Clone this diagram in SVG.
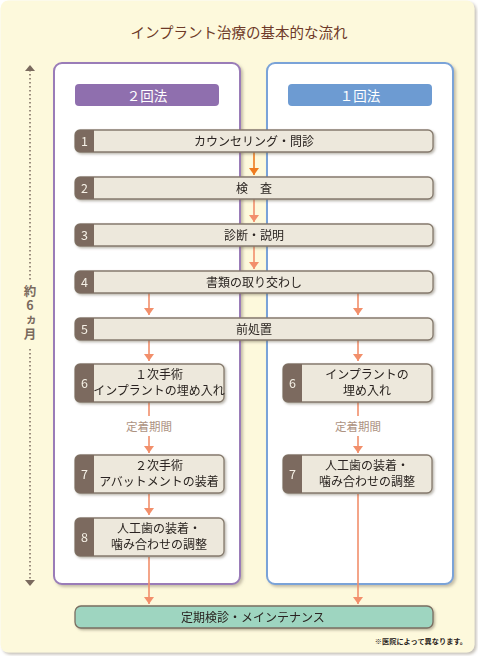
<svg xmlns="http://www.w3.org/2000/svg" width="478" height="656" viewBox="0 0 478 656">
<defs>
<filter id="sh" x="-10%" y="-20%" width="120%" height="160%"><feDropShadow dx="1.5" dy="1.5" stdDeviation="1" flood-color="#6b6050" flood-opacity="0.45"/></filter>
<filter id="shb" x="-5%" y="-5%" width="110%" height="110%"><feDropShadow dx="2" dy="2" stdDeviation="1.5" flood-color="#8a8070" flood-opacity="0.5"/></filter>
<marker id="ah" viewBox="0 0 7 10" refX="7" refY="5" markerWidth="7" markerHeight="10" markerUnits="userSpaceOnUse" orient="auto"><path d="M0,0 L7,5 L0,10 Z" fill="#f28f6b"/></marker>
<marker id="ahd" viewBox="0 0 7 10" refX="7" refY="5" markerWidth="7" markerHeight="10" markerUnits="userSpaceOnUse" orient="auto"><path d="M0,0 L7,5 L0,10 Z" fill="#ee7b1e"/></marker>
</defs>
<style>
text{font-family:"Noto Sans CJK JP","Noto Sans",sans-serif}
.box{fill:#ede8dc;stroke:#857a6d;stroke-width:1.3}
.num{fill:#7b6b5f}
.nt{fill:#f6f0e6;font-size:12.5px;text-anchor:middle}
.bt{fill:#2a2420;font-size:12px;text-anchor:middle}
.ar{stroke:#f28f6b;stroke-width:1.6;fill:none}
.lbl{fill:#ad9282;font-size:11.5px;text-anchor:middle}
.hd{fill:#fff;font-size:13.5px;text-anchor:middle}
</style>
<rect x="0.5" y="0.5" width="474" height="652" rx="8" fill="#fdf9dc" filter="url(#shb)"/>
<text x="239" y="38" font-size="14.5" fill="#6e3a28" text-anchor="middle">インプラント治療の基本的な流れ</text>

<g id="timeline">
<line x1="30" y1="70" x2="30" y2="282" stroke="#7a6a5e" stroke-width="1.5" stroke-dasharray="1.5,2.5"/>
<path d="M25,71 L30,65 L35,71 Z" fill="#7a6a5e"/>
<line x1="30" y1="349" x2="30" y2="579" stroke="#7a6a5e" stroke-width="1.5" stroke-dasharray="1.5,2.5"/>
<path d="M25,580 L30,586 L35,580 Z" fill="#7a6a5e"/>
<text x="30" y="285" fill="#7a6a5e" font-size="12.5" font-weight="bold" style="writing-mode:vertical-rl;text-orientation:upright" letter-spacing="1.8">約6ヵ月</text>
</g>

<g id="panel-2">
<rect x="54" y="63" width="186" height="521" rx="8" fill="#fff" stroke="#9a7cb8" stroke-width="2" filter="url(#shb)"/>
<rect x="75" y="84" width="144" height="22" rx="4" fill="#8f6fae"/>
<text class="hd" x="147" y="100.5">２回法</text>
</g>
<g id="panel-1">
<rect x="267" y="63" width="186" height="521" rx="8" fill="#fff" stroke="#7aa3d8" stroke-width="2" filter="url(#shb)"/>
<rect x="288" y="84" width="144" height="22" rx="4" fill="#6d9bd2"/>
<text class="hd" x="360" y="100.5">１回法</text>
</g>

<g id="connectors">
<line x1="254" y1="152" x2="254" y2="175" stroke="#ee7b1e" stroke-width="1.6" marker-end="url(#ahd)"/>
<line class="ar" x1="254" y1="199" x2="254" y2="222" marker-end="url(#ah)"/>
<line class="ar" x1="254" y1="246" x2="254" y2="269" marker-end="url(#ah)"/>
<line class="ar" x1="149" y1="293" x2="149" y2="315" marker-end="url(#ah)"/>
<line class="ar" x1="358" y1="293" x2="358" y2="315" marker-end="url(#ah)"/>
<line class="ar" x1="149" y1="340" x2="149" y2="361" marker-end="url(#ah)"/>
<line class="ar" x1="358" y1="340" x2="358" y2="361" marker-end="url(#ah)"/>
<line class="ar" x1="149" y1="402" x2="149" y2="416"/>
<line class="ar" x1="149" y1="436" x2="149" y2="453" marker-end="url(#ah)"/>
<line class="ar" x1="358" y1="402" x2="358" y2="416"/>
<line class="ar" x1="358" y1="436" x2="358" y2="453" marker-end="url(#ah)"/>
<line class="ar" x1="149" y1="494" x2="149" y2="515" marker-end="url(#ah)"/>
<line class="ar" x1="149" y1="557" x2="149" y2="604" marker-end="url(#ah)"/>
<line class="ar" x1="358" y1="494" x2="358" y2="604" marker-end="url(#ah)"/>
<text class="lbl" x="149" y="430.5">定着期間</text>
<text class="lbl" x="358" y="430.5">定着期間</text>
</g>

<g id="step1" filter="url(#sh)">
<rect class="box" x="75" y="130" width="358" height="22" rx="5"/>
<path class="num" d="M80,130 H94 V152 H80 A5,5 0 0 1 75,147 V135 A5,5 0 0 1 80,130 Z"/>
<text class="nt" x="84.5" y="145.5">1</text>
<text class="bt" x="254" y="145.5">カウンセリング・問診</text>
</g>
<g id="step2" filter="url(#sh)">
<rect class="box" x="75" y="177" width="358" height="22" rx="5"/>
<path class="num" d="M80,177 H94 V199 H80 A5,5 0 0 1 75,194 V182 A5,5 0 0 1 80,177 Z"/>
<text class="nt" x="84.5" y="192.5">2</text>
<text class="bt" x="254" y="192.5">検　査</text>
</g>
<g id="step3" filter="url(#sh)">
<rect class="box" x="75" y="224" width="358" height="22" rx="5"/>
<path class="num" d="M80,224 H94 V246 H80 A5,5 0 0 1 75,241 V229 A5,5 0 0 1 80,224 Z"/>
<text class="nt" x="84.5" y="239.5">3</text>
<text class="bt" x="254" y="239.5">診断・説明</text>
</g>
<g id="step4" filter="url(#sh)">
<rect class="box" x="75" y="271" width="358" height="22" rx="5"/>
<path class="num" d="M80,271 H94 V293 H80 A5,5 0 0 1 75,288 V276 A5,5 0 0 1 80,271 Z"/>
<text class="nt" x="84.5" y="286.5">4</text>
<text class="bt" x="254" y="286.5">書類の取り交わし</text>
</g>
<g id="step5" filter="url(#sh)">
<rect class="box" x="75" y="318" width="358" height="22" rx="5"/>
<path class="num" d="M80,318 H94 V340 H80 A5,5 0 0 1 75,335 V323 A5,5 0 0 1 80,318 Z"/>
<text class="nt" x="84.5" y="333.5">5</text>
<text class="bt" x="254" y="333.5">前処置</text>
</g>
<g id="step6-2" filter="url(#sh)">
<rect class="box" x="75" y="364" width="149" height="38" rx="5"/>
<path class="num" d="M80,364 H94 V402 H80 A5,5 0 0 1 75,397 V369 A5,5 0 0 1 80,364 Z"/>
<text class="nt" x="84.5" y="387.5">6</text>
<text class="bt" x="159" y="379">１次手術</text>
<text class="bt" x="159" y="395">インプラントの埋め入れ</text>
</g>
<g id="step6-1" filter="url(#sh)">
<rect class="box" x="283" y="364" width="149" height="38" rx="5"/>
<path class="num" d="M288,364 H302 V402 H288 A5,5 0 0 1 283,397 V369 A5,5 0 0 1 288,364 Z"/>
<text class="nt" x="292.5" y="387.5">6</text>
<text class="bt" x="367" y="379">インプラントの</text>
<text class="bt" x="367" y="395">埋め入れ</text>
</g>
<g id="step7-2" filter="url(#sh)">
<rect class="box" x="75" y="455" width="149" height="38" rx="5"/>
<path class="num" d="M80,455 H94 V493 H80 A5,5 0 0 1 75,488 V460 A5,5 0 0 1 80,455 Z"/>
<text class="nt" x="84.5" y="478.5">7</text>
<text class="bt" x="159" y="470">２次手術</text>
<text class="bt" x="159" y="486">アバットメントの装着</text>
</g>
<g id="step7-1" filter="url(#sh)">
<rect class="box" x="283" y="455" width="149" height="38" rx="5"/>
<path class="num" d="M288,455 H302 V493 H288 A5,5 0 0 1 283,488 V460 A5,5 0 0 1 288,455 Z"/>
<text class="nt" x="292.5" y="478.5">7</text>
<text class="bt" x="367" y="470">人工歯の装着・</text>
<text class="bt" x="367" y="486">噛み合わせの調整</text>
</g>
<g id="step8-2" filter="url(#sh)">
<rect class="box" x="75" y="518" width="149" height="38" rx="5"/>
<path class="num" d="M80,518 H94 V556 H80 A5,5 0 0 1 75,551 V523 A5,5 0 0 1 80,518 Z"/>
<text class="nt" x="84.5" y="541.5">8</text>
<text class="bt" x="159" y="533">人工歯の装着・</text>
<text class="bt" x="159" y="549">噛み合わせの調整</text>
</g>
<g id="maintenance" filter="url(#sh)">
<rect x="75" y="606" width="358" height="22" rx="6" fill="#9ed5c0" stroke="#7a6f62" stroke-width="1.3"/>
<text class="bt" x="253" y="621.5">定期検診・メインテナンス</text>
</g>
<text x="467" y="644" font-size="7.2" font-weight="bold" fill="#2a2420" text-anchor="end">※医院によって異なります。</text>
</svg>
